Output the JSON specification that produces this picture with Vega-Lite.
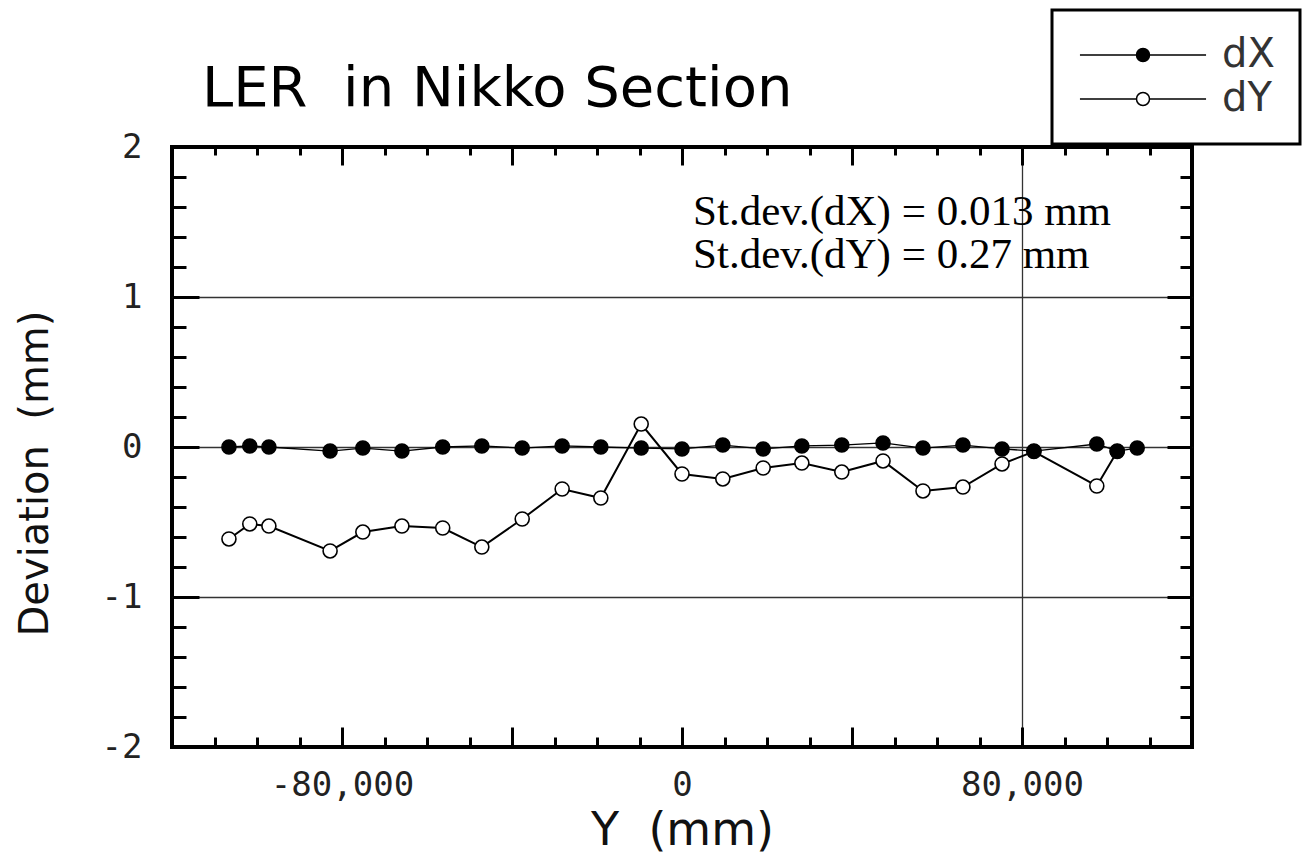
{
  "$schema": "https://vega.github.io/schema/vega-lite/v6.json",
  "width": 1020,
  "height": 600,
  "autosize": {"type": "none"},
  "padding": {"left": 172, "top": 147, "right": 115, "bottom": 110},
  "background": "white",
  "title": {"text": "LER \u00a0in Nikko Section", "anchor": "start", "frame": "group", "font": "DejaVu Sans", "fontSize": 56, "fontWeight": "normal", "color": "black", "baseline": "alphabetic", "offset": -153, "dx": 30},
  "config": {
    "view": {"stroke": "black", "strokeWidth": 4},
    "axis": {"domain": false, "tickColor": "black", "tickWidth": 3, "labelFont": "DejaVu Sans Mono", "labelFontSize": 34, "labelColor": "#222", "titleFont": "DejaVu Sans", "titleFontWeight": "normal", "titleColor": "#111", "gridColor": "#333", "gridWidth": 1.3, "labelOverlap": false, "labelFlush": false, "labelBound": false},
    "legend": {"strokeWidth": 3}
  },
  "data": {"values": [
    {"pos": -106600, "series": "dY", "dev": -0.613},
    {"pos": -101700, "series": "dY", "dev": -0.513},
    {"pos": -97200, "series": "dY", "dev": -0.527},
    {"pos": -82800, "series": "dY", "dev": -0.693},
    {"pos": -75100, "series": "dY", "dev": -0.567},
    {"pos": -65900, "series": "dY", "dev": -0.527},
    {"pos": -56300, "series": "dY", "dev": -0.540},
    {"pos": -47100, "series": "dY", "dev": -0.667},
    {"pos": -37600, "series": "dY", "dev": -0.480},
    {"pos": -28200, "series": "dY", "dev": -0.280},
    {"pos": -19100, "series": "dY", "dev": -0.340},
    {"pos": -9600, "series": "dY", "dev": 0.153},
    {"pos": 0, "series": "dY", "dev": -0.180},
    {"pos": 9600, "series": "dY", "dev": -0.213},
    {"pos": 19100, "series": "dY", "dev": -0.140},
    {"pos": 28200, "series": "dY", "dev": -0.107},
    {"pos": 37600, "series": "dY", "dev": -0.167},
    {"pos": 47300, "series": "dY", "dev": -0.093},
    {"pos": 56700, "series": "dY", "dev": -0.293},
    {"pos": 66100, "series": "dY", "dev": -0.267},
    {"pos": 75300, "series": "dY", "dev": -0.113},
    {"pos": 82800, "series": "dY", "dev": -0.030},
    {"pos": 97600, "series": "dY", "dev": -0.260},
    {"pos": 102400, "series": "dY", "dev": -0.030},
    {"pos": -106600, "series": "dX", "dev": 0.0},
    {"pos": -101700, "series": "dX", "dev": 0.007},
    {"pos": -97200, "series": "dX", "dev": 0.0},
    {"pos": -82800, "series": "dX", "dev": -0.027},
    {"pos": -75100, "series": "dX", "dev": -0.007},
    {"pos": -65900, "series": "dX", "dev": -0.027},
    {"pos": -56300, "series": "dX", "dev": 0.0},
    {"pos": -47100, "series": "dX", "dev": 0.007},
    {"pos": -37600, "series": "dX", "dev": -0.007},
    {"pos": -28200, "series": "dX", "dev": 0.007},
    {"pos": -19100, "series": "dX", "dev": 0.0},
    {"pos": -9600, "series": "dX", "dev": -0.007},
    {"pos": 0, "series": "dX", "dev": -0.013},
    {"pos": 9600, "series": "dX", "dev": 0.013},
    {"pos": 19100, "series": "dX", "dev": -0.013},
    {"pos": 28200, "series": "dX", "dev": 0.007},
    {"pos": 37600, "series": "dX", "dev": 0.013},
    {"pos": 47300, "series": "dX", "dev": 0.027},
    {"pos": 56700, "series": "dX", "dev": -0.007},
    {"pos": 66100, "series": "dX", "dev": 0.013},
    {"pos": 75300, "series": "dX", "dev": -0.013},
    {"pos": 82800, "series": "dX", "dev": -0.027},
    {"pos": 97600, "series": "dX", "dev": 0.020},
    {"pos": 102400, "series": "dX", "dev": -0.027},
    {"pos": 107100, "series": "dX", "dev": -0.007}
  ]},
  "layer": [
    {
      "transform": [{"filter": "datum.series == 'dX'"}],
      "mark": {"type": "line", "color": "black", "strokeWidth": 1.3},
      "encoding": {
        "x": {"field": "pos", "type": "quantitative", "scale": {"domain": [-120000, 120000], "nice": false, "zero": false},
          "axis": {"orient": "bottom",
            "values": [-120000,-110000,-100000,-90000,-80000,-70000,-60000,-50000,-40000,-30000,-20000,-10000,0,10000,20000,30000,40000,50000,60000,70000,80000,90000,100000,110000,120000],
            "title": "Y \u00a0(mm)", "titleFontSize": 46, "titleBaseline": "alphabetic", "titleY": 97,
            "tickSize": {"condition": {"test": "datum.value % 40000 == 0", "value": -20}, "value": -10},
            "labelPadding": 41, "labelBaseline": "top",
            "labelExpr": "(datum.value % 80000 == 0 && abs(datum.value) < 100000) ? ((datum.value < 0 ? '-' : '') + format(abs(datum.value), ',')) : ''",
            "grid": true,
            "gridOpacity": {"condition": {"test": "datum.value == 80000", "value": 1}, "value": 0}}},
        "y": {"field": "dev", "type": "quantitative", "scale": {"domain": [-2, 2], "nice": false, "zero": false},
          "axis": {"orient": "left",
            "values": [-2,-1.8,-1.6,-1.4,-1.2,-1,-0.8,-0.6,-0.4,-0.2,0,0.2,0.4,0.6,0.8,1,1.2,1.4,1.6,1.8,2],
            "title": "Deviation \u00a0(mm)", "titleFontSize": 40, "titleBaseline": "alphabetic", "titleAngle": 270, "titleAlign": "center", "titleX": -125, "titleY": 326,
            "tickSize": {"condition": {"test": "abs(datum.value - round(datum.value)) < 0.01", "value": -27}, "value": -14},
            "labelPadding": 57, "labelBaseline": "middle", "labelAlign": "right",
            "labelExpr": "abs(datum.value - round(datum.value)) < 0.01 ? ((datum.value < -0.5 ? '-' : '') + abs(round(datum.value))) : ''",
            "grid": true,
            "gridOpacity": {"condition": {"test": "abs(datum.value) < 1.5 && abs(datum.value - round(datum.value)) < 0.01", "value": 1}, "value": 0}}}
      }
    },
    {
      "transform": [{"filter": "datum.series == 'dY'"}],
      "mark": {"type": "line", "color": "black", "strokeWidth": 2},
      "encoding": {
        "x": {"field": "pos", "type": "quantitative", "axis": null},
        "y": {"field": "dev", "type": "quantitative", "axis": null}
      }
    },
    {
      "mark": {"type": "point", "shape": "circle", "filled": true, "size": 196, "stroke": "black", "strokeWidth": 1.6, "opacity": 1},
      "encoding": {
        "x": {"field": "pos", "type": "quantitative", "scale": {"domain": [-120000, 120000], "nice": false, "zero": false},
          "axis": {"orient": "top", "labels": false, "title": null, "grid": false,
            "values": [-120000,-110000,-100000,-90000,-80000,-70000,-60000,-50000,-40000,-30000,-20000,-10000,0,10000,20000,30000,40000,50000,60000,70000,80000,90000,100000,110000,120000],
            "tickSize": {"condition": {"test": "datum.value % 40000 == 0", "value": -18}, "value": -8}}},
        "y": {"field": "dev", "type": "quantitative", "scale": {"domain": [-2, 2], "nice": false, "zero": false},
          "axis": {"orient": "right", "labels": false, "title": null, "grid": false,
            "values": [-2,-1.8,-1.6,-1.4,-1.2,-1,-0.8,-0.6,-0.4,-0.2,0,0.2,0.4,0.6,0.8,1,1.2,1.4,1.6,1.8,2],
            "tickSize": {"condition": {"test": "abs(datum.value - round(datum.value)) < 0.01", "value": -25}, "value": -12}}},
        "fill": {"field": "series", "type": "nominal", "scale": {"domain": ["dX", "dY"], "range": ["black", "white"]},
          "legend": {"title": null, "orient": "none", "legendX": 880, "legendY": -137,
            "fillColor": "white", "strokeColor": "black", "padding": 25, "rowPadding": 4,
            "symbolType": "M-9.7,0L-1,0M1,0L9.7,0M1,0A1,1,0,1,1,-1,0A1,1,0,1,1,1,0Z",
            "symbolSize": 169, "symbolStrokeColor": "black", "symbolStrokeWidth": 1.5, "symbolOpacity": 1,
            "symbolOffset": 46, "labelOffset": 59,
            "labelFont": "DejaVu Sans", "labelFontSize": 40, "labelColor": "#333"}}
      }
    },
    {
      "data": {"values": [{}]},
      "mark": {"type": "text", "font": "Liberation Serif", "fontSize": 43, "align": "left", "baseline": "alphabetic", "lineHeight": 43, "color": "black"},
      "encoding": {
        "x": {"datum": 2600, "type": "quantitative", "axis": null},
        "y": {"datum": 1.48, "type": "quantitative", "axis": null},
        "text": {"value": ["St.dev.(dX) = 0.013 mm", "St.dev.(dY) = 0.27 mm"]}
      }
    }
  ],
  "resolve": {"axis": {"x": "independent", "y": "independent"}}
}
